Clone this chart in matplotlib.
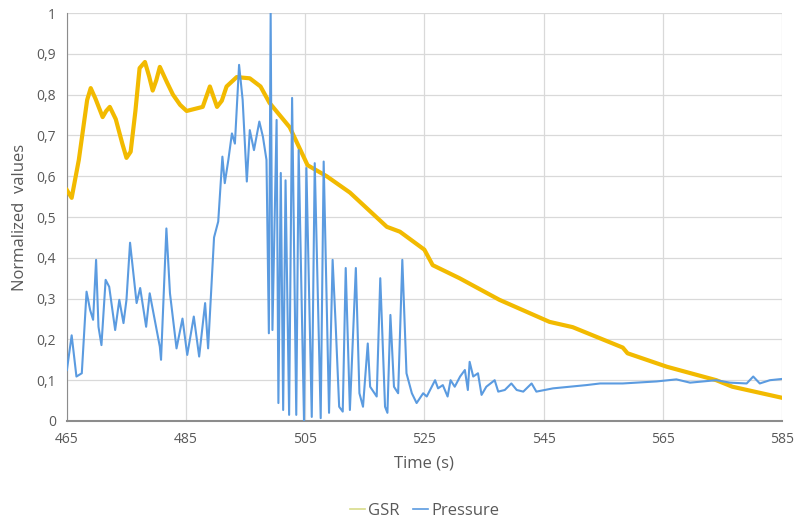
import matplotlib.pyplot as plt
from matplotlib.ticker import FuncFormatter

# GSR trace (time in s, normalized value)
gsr_t = [465, 465.8, 467.0, 468.4, 469.0, 469.8, 471.0, 471.6, 472.2, 473.2, 474.3,
         475.0, 475.7, 476.5, 477.2, 478.1, 478.8, 479.4, 480.0, 480.6, 481.8,
         482.8, 484.0, 485.1, 487.8, 489.0, 490.2, 491.0, 491.8, 493.5, 495.7,
         497.5, 499.0, 502.4, 505.4, 508.6, 512.5, 518.7, 520.9, 525.0, 526.4,
         530.9, 537.6, 546.0, 549.9, 558.3, 559.1, 565.7, 574.0, 576.7, 585]
gsr_v = [0.566, 0.547, 0.64, 0.787, 0.816, 0.79, 0.745, 0.76, 0.77, 0.74, 0.68,
         0.645, 0.66, 0.76, 0.865, 0.88, 0.845, 0.81, 0.835, 0.868, 0.83,
         0.80, 0.775, 0.76, 0.77, 0.82, 0.77, 0.785, 0.82, 0.843, 0.84,
         0.82, 0.78, 0.72, 0.627, 0.60, 0.56, 0.476, 0.464, 0.42, 0.382,
         0.35, 0.297, 0.243, 0.23, 0.18, 0.166, 0.133, 0.10, 0.084, 0.057]

# Pressure trace
pres_t = [465, 465.8, 466.6, 467.5, 468.3, 468.9, 469.4, 469.9, 470.3, 470.8,
          471.5, 472.1, 473.1, 473.8, 474.5, 475.0, 475.6, 476.7, 477.3, 478.3,
          478.9, 480.6, 480.8, 481.7, 482.3, 483.4, 484.4, 485.2, 486.3, 487.2,
          488.2, 488.7, 489.7, 490.4, 491.1, 491.5, 492.1, 492.7, 493.2, 493.9,
          494.5, 495.2, 495.7, 496.4, 497.3, 497.9, 498.5, 498.9, 499.2, 499.5,
          500.2, 500.5, 500.9, 501.3, 501.7, 502.3, 502.8, 503.5, 503.9, 504.8,
          505.2, 506.1, 506.6, 507.6, 508.1, 509.0, 509.6, 510.1, 510.7, 511.3,
          511.8, 512.5, 513.5, 514.1, 514.7, 515.5, 515.9, 517.0, 517.6, 518.4,
          518.8, 519.3, 519.9, 520.6, 521.3, 522.0, 522.9, 523.7, 524.8, 525.4,
          526.8, 527.3, 528.1, 528.9, 529.4, 530.1, 531.0, 531.8, 532.3, 532.6,
          533.2, 534.0, 534.6, 535.4, 536.8, 537.4, 538.5, 539.6, 540.5, 541.6,
          543.0, 543.8, 546.6, 549.4, 552.2, 554.5, 558.3, 564.0, 567.3, 569.6,
          574.0, 576.3, 579.1, 580.2, 581.3, 583.0, 585]
pres_v = [0.125, 0.21, 0.109, 0.117, 0.317, 0.272, 0.248, 0.395, 0.231, 0.186,
          0.346, 0.329, 0.223, 0.297, 0.24, 0.297, 0.437, 0.289, 0.326, 0.231,
          0.313, 0.182, 0.15, 0.472, 0.313, 0.178, 0.251, 0.162, 0.256, 0.158,
          0.289, 0.178, 0.45, 0.489, 0.648, 0.583, 0.64, 0.705, 0.68, 0.873,
          0.787, 0.587, 0.713, 0.664, 0.734, 0.697, 0.64, 0.215, 1.0, 0.223,
          0.738, 0.044, 0.608, 0.027, 0.59, 0.015, 0.792, 0.015, 0.664, 0.0,
          0.62, 0.01, 0.632, 0.007, 0.636, 0.02, 0.395, 0.24, 0.035, 0.023,
          0.375, 0.027, 0.375, 0.068, 0.035, 0.19, 0.084, 0.06, 0.35, 0.035,
          0.02, 0.26, 0.084, 0.068, 0.395, 0.117, 0.068, 0.044, 0.068, 0.06,
          0.1, 0.08, 0.088, 0.06, 0.1, 0.084, 0.109, 0.125, 0.076, 0.145,
          0.109, 0.117, 0.064, 0.084, 0.1, 0.072, 0.076, 0.092, 0.076, 0.072,
          0.092, 0.072, 0.08, 0.084, 0.088, 0.092, 0.092, 0.097, 0.102, 0.094,
          0.1, 0.094, 0.092, 0.109, 0.092, 0.1, 0.103]

x_ticks = [465, 485, 505, 525, 545, 565, 585]
y_ticks = [0, 0.1, 0.2, 0.3, 0.4, 0.5, 0.6, 0.7, 0.8, 0.9, 1]

plt.rcParams['font.family'] = ['Open Sans', 'DejaVu Sans']

fig = plt.figure(figsize=(8.06, 5.22), dpi=100)
ax = fig.add_axes([0.083, 0.1935, 0.887, 0.7815])

ax.plot(gsr_t, gsr_v, color='#F2BA00', lw=3.0, label='GSR', zorder=3,
        solid_joinstyle='round')
ax.plot(pres_t, pres_v, color='#5B9BE0', lw=1.5, label='Pressure', zorder=4,
        solid_joinstyle='round')

ax.set_xlim(465, 585)
ax.set_ylim(0, 1)
ax.set_xticks(x_ticks)
ax.set_yticks(y_ticks)
ax.yaxis.set_major_formatter(FuncFormatter(lambda v, p: ('%g' % round(v, 1)).replace('.', ',')))
ax.grid(True, color='#d9d9d9', lw=0.9)
ax.set_axisbelow(True)
ax.tick_params(length=0, labelsize=10, colors='#595959', pad=8)
for s in ['top', 'right']:
    ax.spines[s].set_visible(False)
ax.spines['left'].set_color('#8c8c8c')
ax.spines['bottom'].set_color('#8c8c8c')
ax.spines['bottom'].set_linewidth(1.5)

ax.set_xlabel('Time (s)', fontsize=12, color='#595959', labelpad=6)
ax.set_ylabel('Normalized  values', fontsize=12, color='#595959', labelpad=6)

leg = ax.legend(loc='upper center', bbox_to_anchor=(0.5, -0.165), ncol=2, frameon=False,
                handlelength=0.9, handletextpad=0.2, columnspacing=0.8,
                fontsize=12, labelcolor='#595959')
for h in leg.get_lines():
    h.set_linewidth(1.2)
leg.get_lines()[0].set_color('#D8DC8A')

plt.savefig('out.png', dpi=100)
